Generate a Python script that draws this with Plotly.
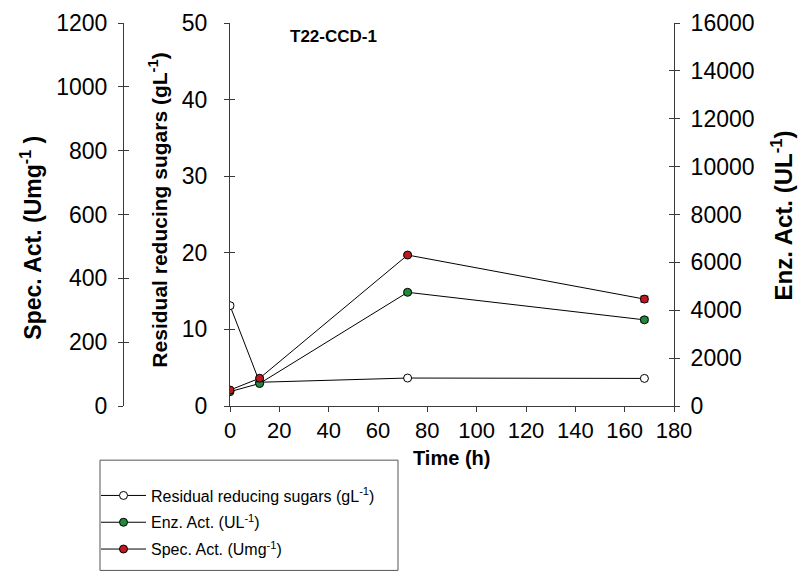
import plotly.graph_objects as go

# ---- data ----
time_h = [0, 12, 72, 168]
sugars = [13.1, 3.1, 3.65, 3.6]          # g/L
sugars_err = [0.3, 0.1, 0.1, 0.1]
enz_act = [600, 940, 4750, 3600]          # U/L
enz_err = [40, 40, 60, 90]
spec_act = [50, 87, 473, 335]             # U/mg
spec_err = [3, 3, 4, 9]

x_ticks = [0, 20, 40, 60, 80, 100, 120, 140, 160, 180]
sug_ticks = [0, 10, 20, 30, 40, 50]
enz_ticks = [0, 2000, 4000, 6000, 8000, 10000, 12000, 14000, 16000]
spec_ticks = [0, 200, 400, 600, 800, 1000, 1200]

FONT = "Arial, Liberation Sans, sans-serif"
AX = "#3a3a3a"

# pixel -> paper helpers (plot area spans px 20..674 horizontally, 10..406 vertically)
L, R, T, B = 20, 124, 10, 173
PW = 798 - L - R
PH = 579 - T - B


def fx(px):
    return (px - L) / PW


def fy(py):
    return (579 - B - py) / PH


fig = go.Figure()

marker_line = dict(color="black", width=1)

fig.add_trace(go.Scatter(
    x=time_h, y=sugars, mode="lines+markers", yaxis="y",
    name="Residual reducing sugars (gL<sup>-1</sup>)", legendgroup="a",
    line=dict(color="black", width=1),
    marker=dict(size=8, color="white", line=marker_line),
    error_y=dict(type="data", array=sugars_err, color="black", thickness=1, width=4),
))
fig.add_trace(go.Scatter(
    x=time_h, y=enz_act, mode="lines+markers", yaxis="y2",
    name="Enz. Act. (UL<sup>-1</sup>)", legendgroup="b",
    line=dict(color="black", width=1),
    marker=dict(size=8, color="#1f8a3c", line=marker_line),
    error_y=dict(type="data", array=enz_err, color="black", thickness=1, width=4),
))
fig.add_trace(go.Scatter(
    x=time_h, y=spec_act, mode="lines+markers", yaxis="y3",
    name="Spec. Act. (Umg<sup>-1</sup>)", legendgroup="c",
    line=dict(color="black", width=1),
    marker=dict(size=8, color="#c01820", line=marker_line),
    error_y=dict(type="data", array=spec_err, color="black", thickness=1, width=4),
))

# dummy traces for inner tick marks (crossing ticks)
for ya in ["y4", "y5", "y6"]:
    fig.add_trace(go.Scatter(x=[None], y=[None], yaxis=ya, showlegend=False,
                             hoverinfo="skip"))

xdom0 = fx(230)
tickfont = dict(family=FONT, size=23, color="black")
common_y = dict(showgrid=False, zeroline=False, showline=True, linecolor=AX,
                linewidth=1, ticks="outside", ticklen=5, tickcolor=AX,
                tickfont=tickfont, ticklabeloverflow="allow")
inner_y = dict(showgrid=False, zeroline=False, showline=False, ticks="inside",
               ticklen=5, tickcolor=AX, showticklabels=False)


def labels(vals):
    return [str(v) for v in vals]


fig.update_layout(
    width=798, height=579,
    margin=dict(l=L, r=R, t=T, b=B),
    paper_bgcolor="white", plot_bgcolor="white",
    font=dict(family=FONT, color="black"),
    xaxis=dict(domain=[xdom0, 1], range=[0, 180], tickvals=x_ticks,
               ticktext=labels(x_ticks),
               showgrid=False, zeroline=False, showline=True, linecolor=AX,
               ticks="outside", ticklen=5, tickcolor=AX,
               tickfont=dict(family=FONT, size=22, color="black"),
               ticklabeloverflow="allow", ticklabelstandoff=0),
    yaxis=dict(range=[0, 50], tickvals=sug_ticks, ticktext=labels(sug_ticks),
               anchor="x", ticklabelstandoff=12, **common_y),
    yaxis2=dict(range=[0, 16000], tickvals=enz_ticks, ticktext=labels(enz_ticks),
                overlaying="y", side="right", anchor="x", ticklabelstandoff=6,
                **common_y),
    yaxis3=dict(range=[0, 1200], tickvals=spec_ticks, ticktext=labels(spec_ticks),
                overlaying="y", side="left", anchor="free", position=fx(123),
                ticklabelstandoff=6, **common_y),
    yaxis4=dict(range=[0, 50], tickvals=sug_ticks, overlaying="y", anchor="x",
                side="left", **inner_y),
    yaxis5=dict(range=[0, 16000], tickvals=enz_ticks, overlaying="y", anchor="x",
                side="right", **inner_y),
    yaxis6=dict(range=[0, 1200], tickvals=spec_ticks, overlaying="y",
                anchor="free", position=fx(123), side="left", **inner_y),
    showlegend=True,
    legend=dict(x=fx(96), y=fy(481), xanchor="left", yanchor="top",
                bgcolor="rgba(0,0,0,0)", borderwidth=0, itemwidth=45,
                font=dict(family=FONT, size=16, color="black"),
                tracegroupgap=3),
)

# legend frame
fig.add_shape(type="rect", xref="paper", yref="paper",
              x0=fx(100), x1=fx(398), y0=fy(576), y1=fy(462),
              line=dict(color="#555555", width=1))


def title_ann(text, px, py, size, angle=0):
    fig.add_annotation(text=text, xref="paper", yref="paper",
                       x=fx(px), y=fy(py), xanchor="center", yanchor="middle",
                       textangle=angle, showarrow=False,
                       font=dict(family=FONT, size=size, color="black"))


title_ann("<b>T22-CCD-1</b>", 333, 24, 17)
title_ann("<b>Time (h)</b>", 451, 460, 20)
title_ann("<b>Spec. Act. (Umg<sup>-1</sup> )</b>", 31, 232, 23, -90)
title_ann("<b>Residual reducing sugars (gL<sup>-1</sup>)</b>", 158, 204, 21, -90)
title_ann("<b>Enz. Act. (UL<sup>-1</sup>)</b>", 782, 209, 24, -90)

fig.write_html("out.html",
               config={"displayModeBar": False},
               post_script="document.body.style.margin='0';"
                           "document.body.style.overflow='hidden';")
